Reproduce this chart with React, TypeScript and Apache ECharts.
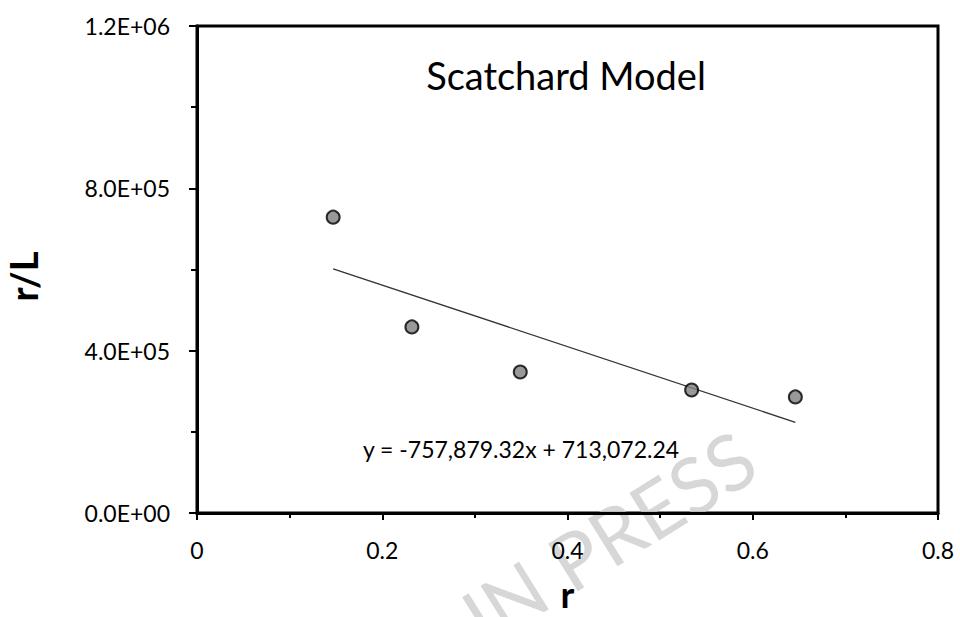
import React, { useEffect, useRef } from "react";
import * as echarts from "echarts";

const rValues = [0.147, 0.232, 0.349, 0.534, 0.646];
const rOverL = [729000, 458500, 347500, 303000, 286000];
const slope = -757879.32;
const intercept = 713072.24;
const xTicks = [0, 0.2, 0.4, 0.6, 0.8];
const yTicks = [0, 400000, 800000, 1200000];
const title = "Scatchard Model";
const equation = "y = -757,879.32x + 713,072.24";
const watermark = "IN PRESS";

function sci(v: number): string {
  const s = v.toExponential(1);
  const [m, e] = s.split("e");
  const sign = e[0] === "-" ? "-" : "+";
  const digits = e.replace(/[+-]/, "").padStart(2, "0");
  return `${m}E${sign}${digits}`;
}

export default function App() {
  const ref = useRef<HTMLDivElement>(null);
  useEffect(() => {
    if (!ref.current) return;
    const chart = echarts.init(ref.current, undefined, { renderer: "svg" });
    const xMin = rValues[0];
    const xMax = rValues[rValues.length - 1];
    const trend = [
      [xMin, slope * xMin + intercept],
      [xMax, slope * xMax + intercept],
    ];
    const font = "Lato, 'Open Sans', sans-serif";
    chart.setOption({
      animation: false,
      backgroundColor: "#ffffff",
      textStyle: { fontFamily: font },
      grid: {
        left: 197,
        right: 22,
        top: 26,
        bottom: 104,
        containLabel: false,
        outerBoundsMode: "none",
        show: true,
        borderColor: "#000",
        borderWidth: 3,
        backgroundColor: "transparent",
      },
      xAxis: {
        type: "value",
        min: xTicks[0],
        max: xTicks[xTicks.length - 1],
        interval: 0.2,
        name: "r",
        nameLocation: "middle",
        nameGap: 62,
        nameTextStyle: { fontSize: 37, fontWeight: "bold", color: "#000", fontFamily: font },
        axisLine: { show: true, lineStyle: { color: "#000", width: 3 } },
        axisTick: { show: true, inside: false, length: 7, lineStyle: { color: "#000", width: 2 } },
        minorTick: { show: true, splitNumber: 2, length: 5, lineStyle: { color: "#000", width: 2 } },
        splitLine: { show: false },
        axisLabel: { fontSize: 23, color: "#000", margin: 25, fontFamily: font },
      },
      yAxis: {
        type: "value",
        min: yTicks[0],
        max: yTicks[yTicks.length - 1],
        interval: 400000,
        name: "r/L",
        nameLocation: "middle",
        nameGap: 155,
        nameRotate: 90,
        nameTextStyle: {
          fontSize: 38,
          fontWeight: "bold",
          color: "#000",
          fontFamily: font,
          padding: [0, 14, 0, 0],
        },
        axisLine: { show: true, lineStyle: { color: "#000", width: 3 } },
        axisTick: { show: true, inside: false, length: 8, lineStyle: { color: "#000", width: 2 } },
        minorTick: { show: true, splitNumber: 2, length: 6, lineStyle: { color: "#000", width: 2 } },
        splitLine: { show: false },
        axisLabel: { fontSize: 23, color: "#000", margin: 27, formatter: (v: number) => sci(v), fontFamily: font },
      },
      title: {
        text: title,
        left: 561,
        top: 51,
        textAlign: "center",
        textStyle: { fontSize: 38, fontWeight: "normal", color: "#000", fontFamily: font },
      },
      graphic: [
        {
          type: "text",
          x: 747,
          y: 450,
          rotation: (32 * Math.PI) / 180,
          silent: true,
          z: 0,
          style: {
            text: watermark,
            fontSize: 78,
            fontFamily: font,
            fill: "rgba(205,205,205,0.8)",
            textAlign: "right",
            textVerticalAlign: "middle",
          },
        },
        {
          type: "text",
          x: 521,
          y: 449,
          z: 10,
          style: {
            text: equation,
            fontSize: 23,
            fontFamily: font,
            fill: "#000",
            textAlign: "center",
            textVerticalAlign: "middle",
          },
        },
      ],
      series: [
        {
          type: "line",
          data: trend,
          symbol: "none",
          lineStyle: { color: "#333", width: 1.3 },
          z: 2,
        },
        {
          type: "scatter",
          data: rValues.map((x, i) => [x, rOverL[i]]),
          symbol: "circle",
          symbolSize: 13,
          itemStyle: { color: "#808080", borderColor: "#000", borderWidth: 2 },
          z: 3,
        },
      ],
    });
    return () => chart.dispose();
  }, []);
  return (
    <div
      ref={ref}
      style={{ position: "fixed", left: 0, top: 0, width: 960, height: 617 }}
    />
  );
}
